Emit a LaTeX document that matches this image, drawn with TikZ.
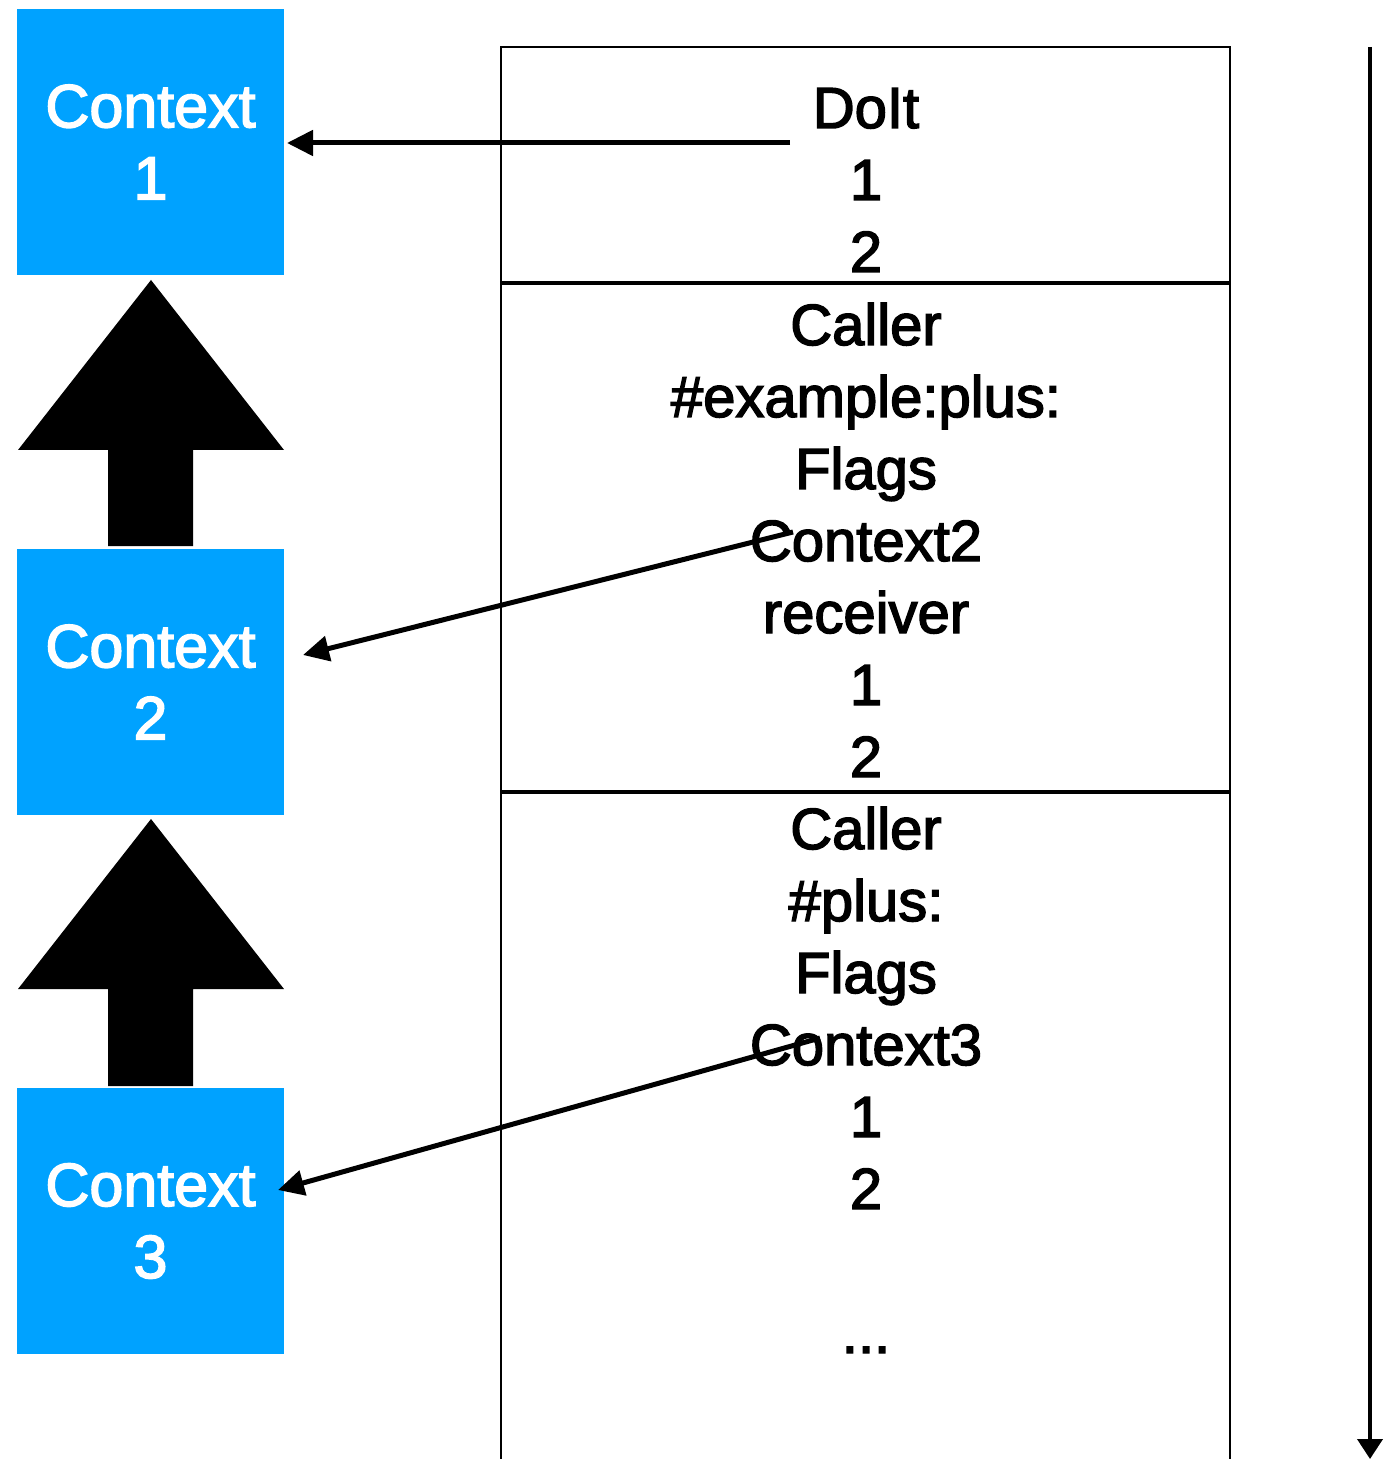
\documentclass[tikz,border=0pt]{standalone}
\usepackage{fontspec}
\setmainfont{Liberation Sans}
\newfontfamily\labelfont{Liberation Sans}[RawFeature={embolden=2.5}]
\usetikzlibrary{arrows.meta}
\definecolor{ctxblue}{RGB}{0,162,255}
\begin{document}
\begin{tikzpicture}[x=0.5pt,y=-0.5pt,
  ctxbox/.style={fill=ctxblue, text=white, minimum width=133.5pt, minimum height=133pt,
    inner sep=0pt, align=center, font=\labelfont\fontsize{30.5}{36}\selectfont},
  slot/.style={anchor=base, inner sep=0pt, font=\labelfont\fontsize{29}{36}\selectfont},
  ptr/.style={line width=2.5pt, -{Triangle[length=13pt,width=12.5pt]}},
  frameline/.style={line width=1pt},
  divider/.style={line width=1.6pt},
  timeline/.style={line width=2pt, -{Triangle[length=10pt,width=12.5pt]}},
  blockarrow/.style={fill=black}]

\useasboundingbox (0,0) rectangle (1394,1459);

% contexts
\node[ctxbox] (ctx1) at (150.5,142) {Context\\1};
\node[ctxbox] (ctx2) at (150.5,682) {Context\\2};
\node[ctxbox] (ctx3) at (150.5,1221) {Context\\3};

% sender links between contexts
\fill[blockarrow] (151,280) -- (284,450) -- (193,450) -- (193,546) -- (108,546) -- (108,450) -- (18,450) -- cycle;
\fill[blockarrow] (151,819) -- (284,989) -- (193,989) -- (193,1086) -- (108,1086) -- (108,989) -- (18,989) -- cycle;

% the stack
\draw[frameline] (501,1459) -- (501,47) -- (1230,47) -- (1230,1459);
\draw[divider] (501,283) -- (1230,283);
\draw[divider] (501,792) -- (1230,792);

\foreach \t [count=\i] in {DoIt,1,2}
  \node[slot] (fa-\i) at (866,{128+72*(\i-1)}) {\t};
\foreach \t [count=\i] in {Caller,\#example:plus:,Flags,Context2,receiver,1,2}
  \node[slot] (fb-\i) at (866,{345+72*(\i-1)}) {\t};
\foreach \t [count=\i] in {Caller,\#plus:,Flags,Context3,1,2}
  \node[slot] (fc-\i) at (866,{849+72*(\i-1)}) {\t};
\node[slot] (fc-dots) at (866,1353) {...};

% pointers from frames to contexts
\coordinate (p1from) at (790,143);
\coordinate (p1to) at (287,143);
\coordinate (p2from) at (793,532);
\coordinate (p2to) at (303,655);
\coordinate (p3from) at (820,1038);
\coordinate (p3to) at (278,1190);
\draw[ptr] (p1from) -- (p1to);
\draw[ptr] (p2from) -- (p2to);
\draw[ptr] (p3from) -- (p3to);

% growth direction of the stack
\coordinate (tltop) at (1370,47);
\coordinate (tlbot) at (1370,1459);
\draw[timeline] (tltop) -- (tlbot);
\end{tikzpicture}
\end{document}
